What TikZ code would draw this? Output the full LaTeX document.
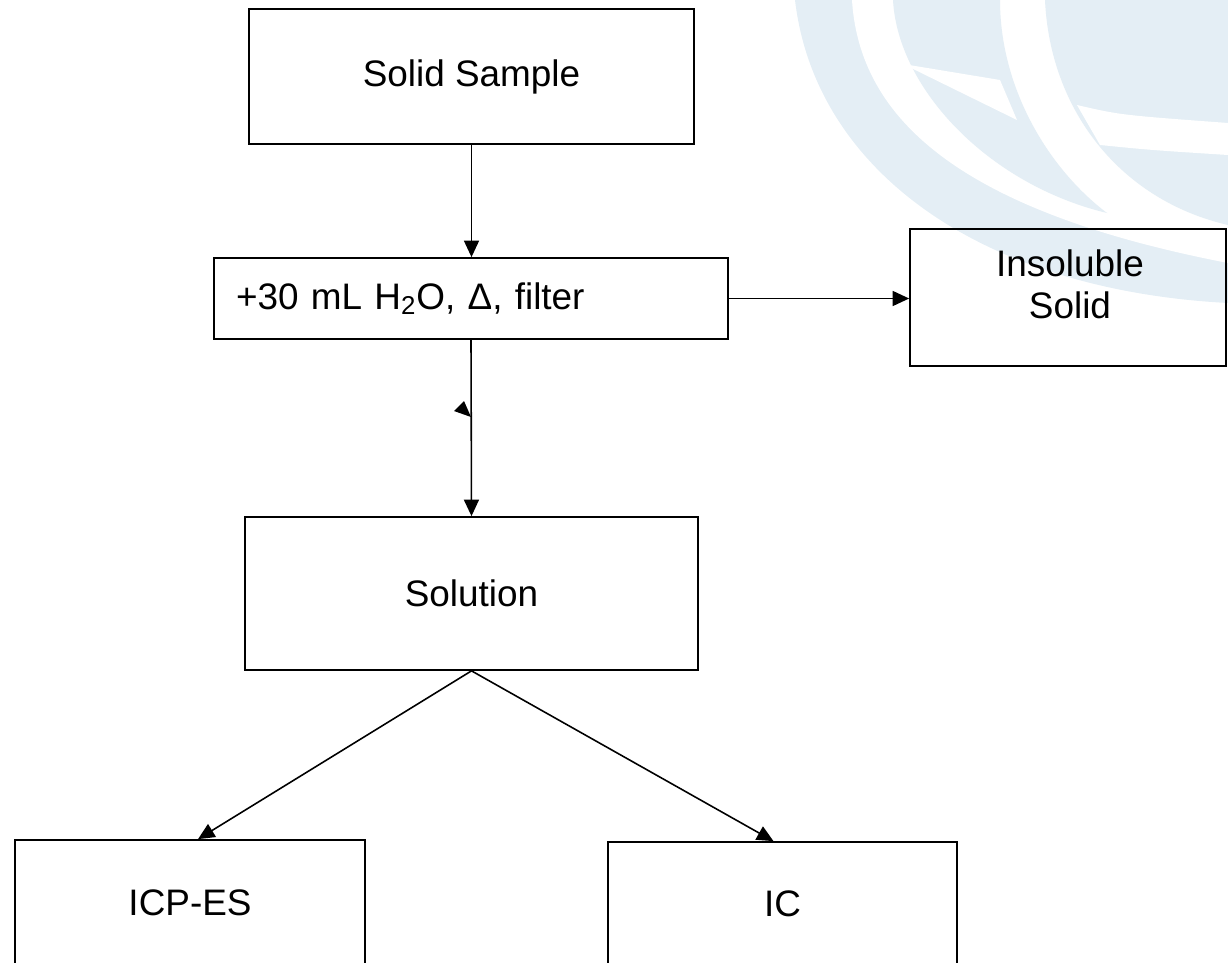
\documentclass[tikz,border=0pt]{standalone}
\usepackage{fontspec}
\setmainfont{Liberation Sans}
\usetikzlibrary{arrows.meta,calc}
\definecolor{wmblue}{RGB}{228,238,245}
\begin{document}
\begin{tikzpicture}[x=0.02cm,y=-0.02cm,
  box/.style={draw=black, line width=1pt, rectangle, inner sep=0pt,
    font=\fontsize{21}{24}\selectfont},
  lbl/.style={inner sep=0pt, font=\fontsize{21}{24}\selectfont},
  arr/.style={-{Triangle[length=0.33cm,width=0.3cm]}, line width=0.9pt}]
\useasboundingbox (0,0) rectangle (1228,963);
\clip (0,0) rectangle (1228,963);
% watermark
\fill[wmblue] (795,0) .. controls (815,170) and (980,290) .. (1228,303) -- (1228,0) -- cycle;
\fill[white] (852,0) .. controls (860,130) and (980,215) .. (1228,263) -- (1228,0) -- cycle;
\fill[wmblue] (893,0) .. controls (898,90) and (990,185) .. (1107,213)
   .. controls (1050,170) and (1000,90) .. (1000,0) -- cycle;
\fill[white] (903,64) -- (1000,80) -- (1017,120) -- cycle;
\fill[wmblue] (1045,0) .. controls (1050,110) and (1120,200) .. (1228,225) -- (1228,0) -- cycle;
\fill[white] (1077,105) .. controls (1120,115) .. (1228,123) -- (1228,155) .. controls (1150,150) .. (1100,145) -- cycle;
% boxes
\node[box, minimum width=8.9cm, minimum height=2.7cm] (solid) at (471.5,76.5) {Solid Sample};
\node[box, minimum width=10.28cm, minimum height=1.62cm, text width=9.4cm,
  inner xsep=0.44cm, align=left] (proc) at (471,298.5) {+30 mL H\textsubscript{2}O, Δ, filter};
\node[box, minimum width=6.32cm, minimum height=2.74cm] (insol) at (1068,297.5) {};
\node[lbl, align=center] (insoltxt) at (1070,284) {Insoluble\\Solid};
\node[box, minimum width=9.06cm, minimum height=3.06cm] (soln) at (471.5,593.5) {Solution};
\node[box, minimum width=7cm, minimum height=2.52cm] (icp) at (190,903) {ICP-ES};
\node[box, minimum width=6.98cm, minimum height=2.48cm] (ic) at (782.5,904) {IC};
% connectors
\draw[arr] (solid.south) -- (solid.south |- proc.north);
\draw[arr] (proc.south) -- (soln.north);
\draw[arr] (proc.east) -- (proc.east -| insol.west);
\draw[arr] (soln.south) -- ($(icp.north)+(8,0)$);
\draw[arr] (soln.south) -- ($(ic.north)+(-9,0)$);
\fill (454,411) -- (464,401) -- (471,417) -- cycle;
\end{tikzpicture}
\end{document}
